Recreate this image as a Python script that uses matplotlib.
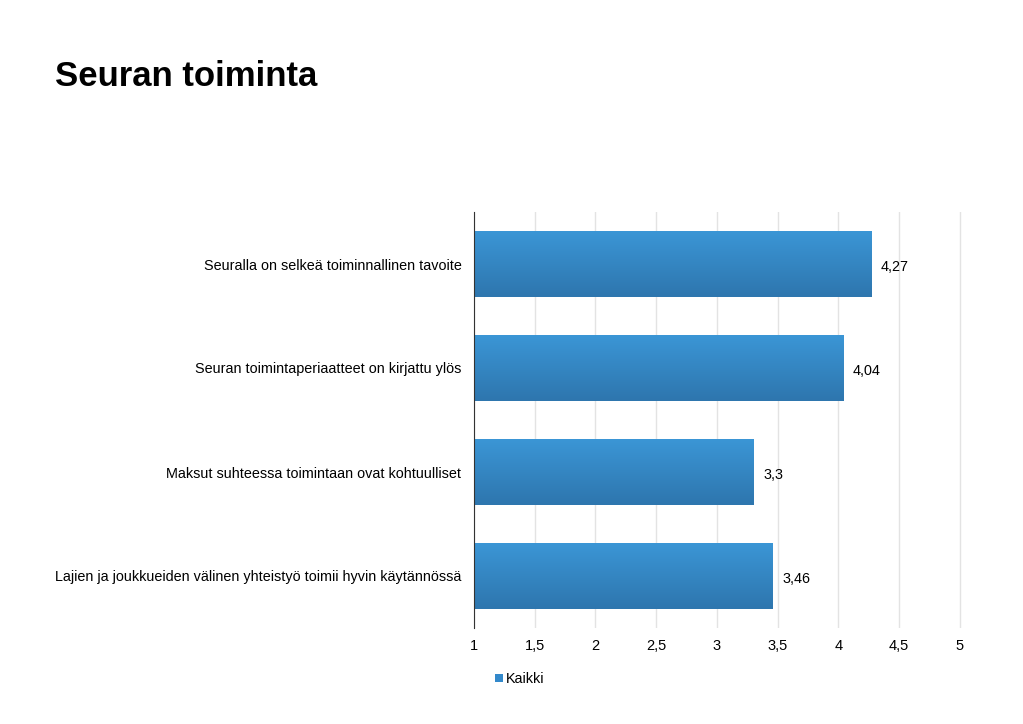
import matplotlib
matplotlib.use("Agg")
import matplotlib.pyplot as plt
import numpy as np
from matplotlib.colors import LinearSegmentedColormap

plt.rcParams['font.family'] = ['Liberation Sans', 'DejaVu Sans']

title = "Seuran toiminta"
categories = [
    "Seuralla on selkeä toiminnallinen tavoite",
    "Seuran toimintaperiaatteet on kirjattu ylös",
    "Maksut suhteessa toimintaan ovat kohtuulliset",
    "Lajien ja joukkueiden välinen yhteistyö toimii hyvin käytännössä",
]
values = [4.27, 4.04, 3.3, 3.46]
series_name = "Kaikki"
xticks = [1, 1.5, 2, 2.5, 3, 3.5, 4, 4.5, 5]

fig = plt.figure(figsize=(10.23, 7.24), dpi=100)
ax = fig.add_axes([474/1023, 1-628/724, (962.4-474)/1023, (628-212)/724])

y = np.arange(len(categories))
base = 1
bars = ax.barh(y, [v - base for v in values], left=base, height=0.64,
               color='#3389cb', edgecolor='none', zorder=3, label=series_name)

grad = np.linspace(0, 1, 100).reshape(-1, 1)
cmap = LinearSegmentedColormap.from_list('g', ['#2e76ae', '#3b96d6'])
for b in bars:
    x0, y0 = b.get_x(), b.get_y()
    w, h = b.get_width(), b.get_height()
    im = ax.imshow(grad, extent=[x0, x0 + w, y0 + h, y0], cmap=cmap,
                   aspect='auto', zorder=3.5, origin='lower')
    im.set_clip_path(b)

ax.set_xlim(1, 5.02)
ax.set_ylim(len(categories) - 0.5, -0.5)
ax.set_xticks(xticks)
ax.set_xticklabels([("%g" % t).replace('.', ',') for t in xticks], fontsize=10.5)
ax.set_yticks(y)
ax.set_yticklabels(categories, fontsize=10.4)
ax.tick_params(axis='both', length=0)
ax.tick_params(axis='x', pad=8)
ax.tick_params(axis='y', pad=9)
ax.grid(axis='x', color='#e3e3e3', linewidth=1, zorder=0)
for s in ['top', 'right', 'bottom']:
    ax.spines[s].set_visible(False)
ax.spines['left'].set_color('#333333')
ax.spines['left'].set_zorder(5)

for yi, v in zip(y, values):
    ax.annotate(("%g" % v).replace('.', ','), xy=(v, yi), xytext=(7, -2),
                textcoords='offset points', va='center', ha='left', fontsize=10.4)

fig.text(55/1023, 1-77/724, title, fontsize=25, fontweight='bold', va='center', ha='left')

leg = ax.legend(loc='upper left', bbox_to_anchor=(482/1023, 1-659/724),
                bbox_transform=fig.transFigure, frameon=False, fontsize=10.4,
                handlelength=0.55, handleheight=0.55, handletextpad=0.2)

fig.savefig("out.png", dpi=100)
